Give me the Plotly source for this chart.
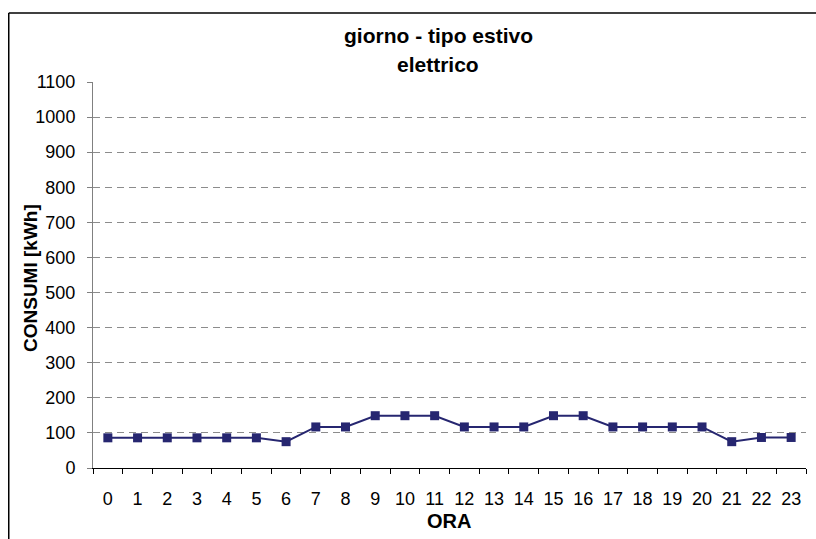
import plotly.graph_objects as go

# hourly electricity consumption, typical summer day
ore = [str(h) for h in range(24)]
consumi = [86, 86, 86, 86, 86, 86, 75, 117, 117, 149, 149, 149,
           117, 117, 117, 149, 149, 117, 117, 117, 117, 75, 87, 87]
y_ticks = list(range(0, 1101, 100))

W, H = 816, 539
# plot area in pixels
L, R, T, B = 93, 806, 82, 468
pw, ph = R - L, B - T

FONT = "Liberation Sans, Arial, sans-serif"
NAVY = "#262670"

fig = go.Figure()
fig.add_trace(go.Scatter(
    x=ore,
    y=consumi,
    mode="lines+markers",
    line=dict(color=NAVY, width=2),
    marker=dict(symbol="square", size=9, color=NAVY),
    showlegend=False,
))


def px_x(p):
    return (p - L) / pw


def px_y(p):
    return (B - p) / ph


def label(text, x, y, size, angle=0):
    return dict(text=text, x=px_x(x), y=px_y(y), xref="paper", yref="paper",
                showarrow=False, textangle=angle, xanchor="center",
                yanchor="middle", font=dict(size=size))


# chart frame: only left and top edges fall inside the window
frame = dict(color="black", width=1.5)

fig.update_layout(
    width=W,
    height=H,
    margin=dict(l=L, r=W - R, t=T, b=H - B),
    paper_bgcolor="white",
    plot_bgcolor="white",
    font=dict(family=FONT, size=18, color="black"),
    xaxis=dict(
        type="category",
        range=[-0.5, 23.5],
        tickson="boundaries",
        ticks="outside",
        ticklen=5,
        tickcolor="black",
        showline=True,
        linecolor="black",
        linewidth=1,
        showgrid=False,
        ticklabelstandoff=14,
        tickfont=dict(size=18),
    ),
    yaxis=dict(
        range=[0, 1100],
        tickvals=y_ticks,
        ticks="outside",
        ticklen=5,
        tickcolor="#808080",
        showline=True,
        linecolor="#808080",
        linewidth=1,
        showgrid=True,
        gridcolor="#8c8c8c",
        griddash="7px,5px",
        gridwidth=1,
        zeroline=False,
        ticklabelstandoff=8,
        tickfont=dict(size=18),
    ),
    annotations=[
        label("<b>giorno - tipo estivo</b>", 438, 35, 21),
        label("<b>elettrico</b>", 438, 64, 21),
        label("<b>ORA</b>", 449, 521, 20),
        label("<b>CONSUMI [kWh]</b>", 30, 278, 19, -90),
    ],
    shapes=[
        dict(type="line", xref="paper", yref="paper",
             x0=px_x(8.75), x1=px_x(8.75), y0=px_y(H), y1=px_y(13),
             line=frame, layer="below"),
        dict(type="line", xref="paper", yref="paper",
             x0=px_x(8.75), x1=px_x(W), y0=px_y(13), y1=px_y(13),
             line=frame, layer="below"),
    ],
)

# drop the page's default body margin so the figure fills the window
fig.write_html(
    "out.html",
    config={"displayModeBar": False},
    post_script="document.body.style.margin='0';"
                "document.body.style.overflow='hidden';",
)
